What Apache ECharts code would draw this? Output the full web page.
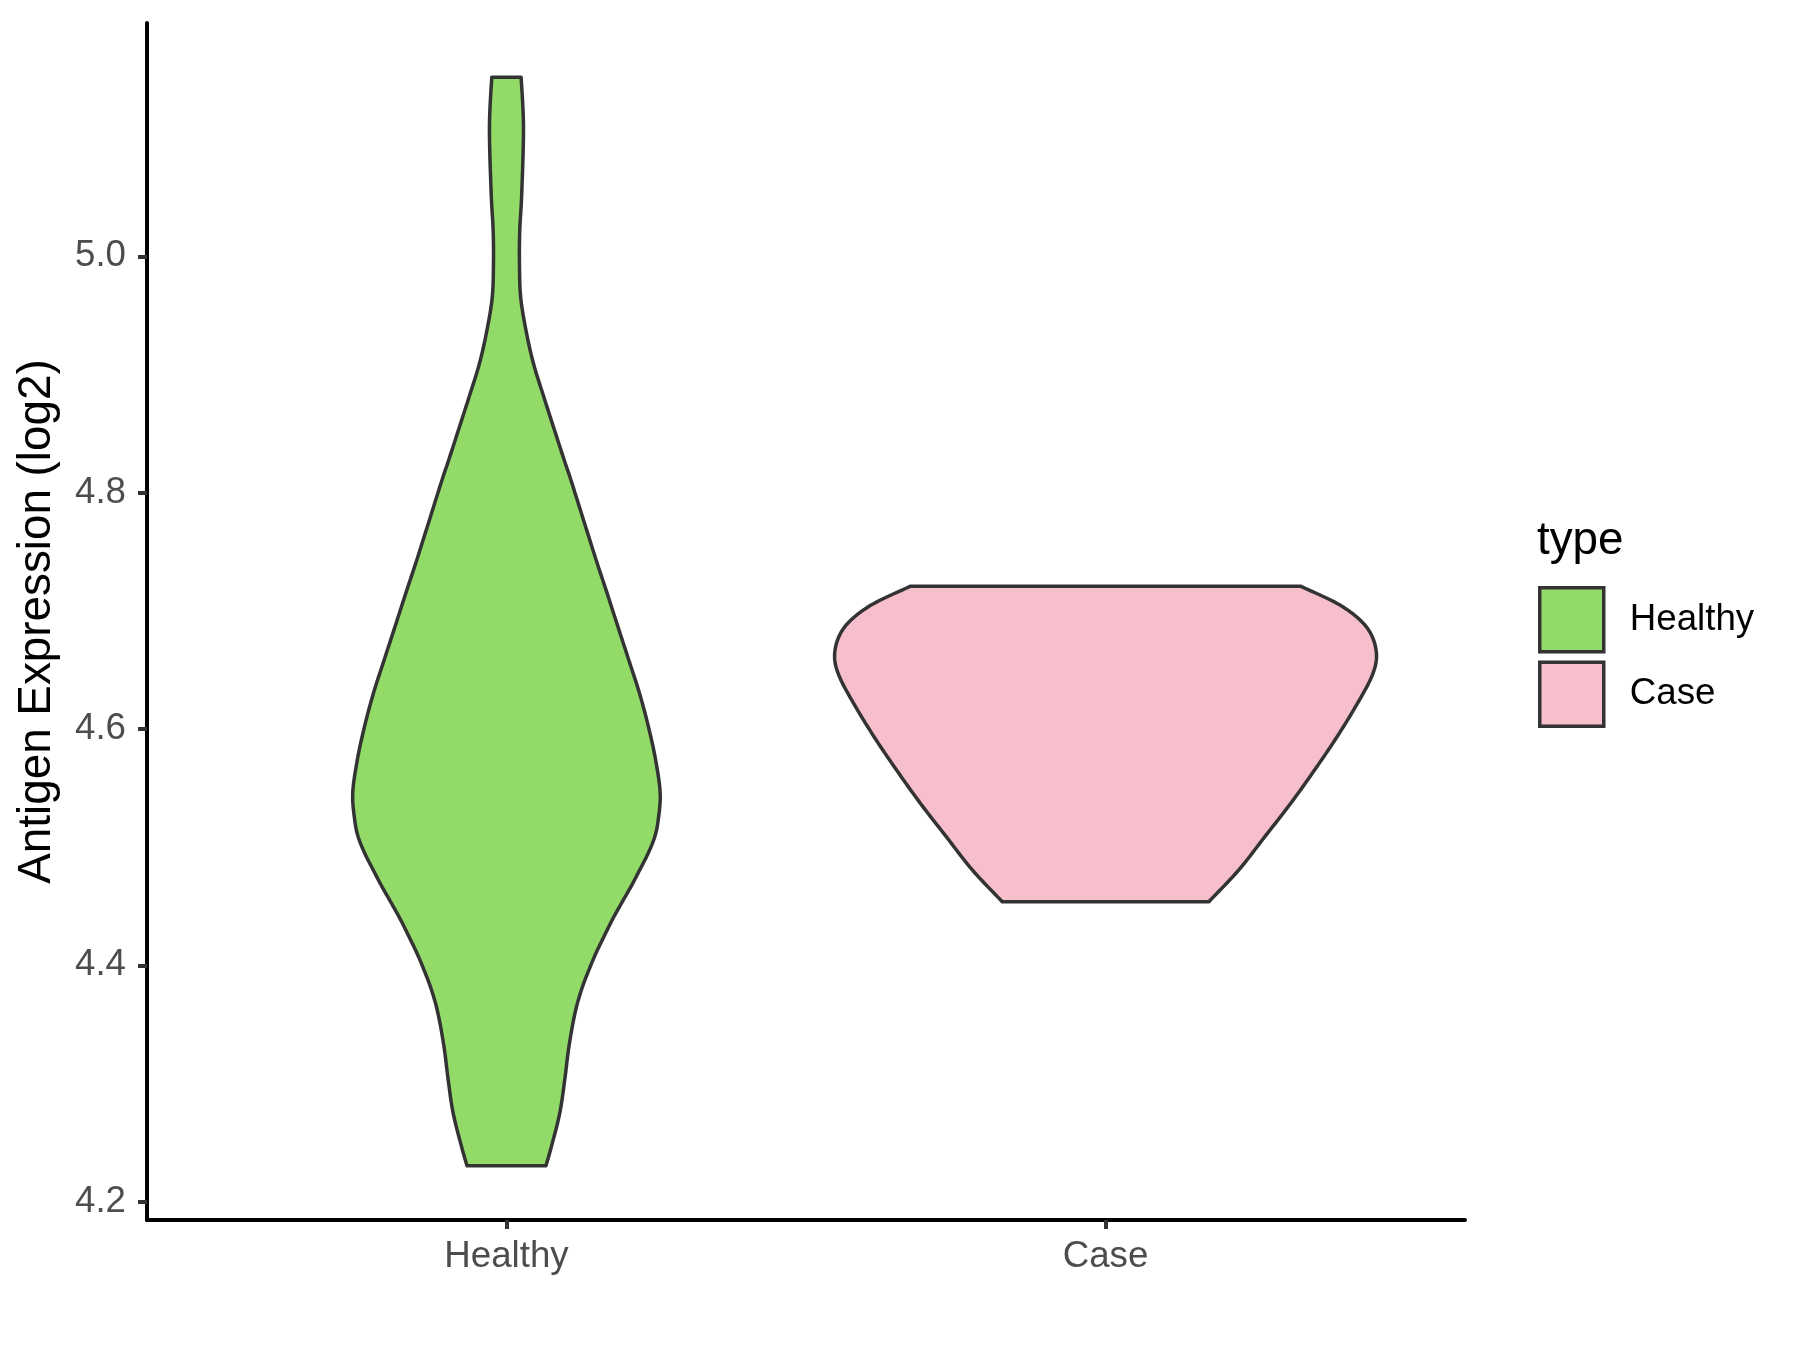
<!DOCTYPE html>
<html>
<head>
<meta charset="utf-8">
<script src="https://cdn.jsdelivr.net/npm/echarts@6/dist/echarts.min.js"></script>
<style>
html, body { margin: 0; padding: 0; background: #ffffff; }
#chart { width: 1800px; height: 1350px; }
</style>
</head>
<body>
<div id="chart"></div>
<script>
// ---- data ----
const categories = ['Healthy', 'Case'];
const categoryPositions = [1, 2];

// Healthy violin outline: expression values (top to bottom) and half-widths (category units)
const healthyValues = [5.1516, 5.1093, 5.0533, 5.0220, 4.9938, 4.9656, 4.9374, 4.9093, 4.8810, 4.8556,
  4.8275, 4.8106, 4.7824, 4.7429, 4.7148, 4.6865, 4.6584, 4.6302, 4.6019, 4.5738, 4.5456, 4.5230,
  4.5089, 4.4949, 4.4808, 4.4666, 4.4526, 4.4385, 4.4244, 4.4103, 4.3962, 4.3793, 4.3596, 4.3313,
  4.3032, 4.2750, 4.2468, 4.2304];
const healthyHalfWidths = [0.0245, 0.0284, 0.0255, 0.0222, 0.0217, 0.0237, 0.0326, 0.0451, 0.0624, 0.0785,
  0.0965, 0.1077, 0.1252, 0.1498, 0.1681, 0.1861, 0.2042, 0.2221, 0.2370, 0.2490, 0.2566, 0.2533,
  0.2476, 0.2366, 0.2225, 0.2078, 0.1920, 0.1766, 0.1628, 0.1494, 0.1377, 0.1252, 0.1144, 0.1043,
  0.0973, 0.0890, 0.0751, 0.0659];

// Case violin outline
const caseValues = [4.7209, 4.7063, 4.6922, 4.6781, 4.6611, 4.6442, 4.6217, 4.5935, 4.5653, 4.5372,
  4.5089, 4.4808, 4.4539];
const caseHalfWidths = [0.3252, 0.3865, 0.4250, 0.4452, 0.4523, 0.4441, 0.4205, 0.3865, 0.3489, 0.3092,
  0.2659, 0.2225, 0.1725];

const yTickValues = [4.2, 4.4, 4.6, 4.8, 5.0];
const yMin = 4.1845;
const yMax = 5.1975;

// ---- styling ----
const fillColors = ['#93DB69', '#F7BFCB'];
const outlineColor = '#333333';
const fontFamily = '"Liberation Sans", Arial, Helvetica, sans-serif';

const groupValues = [healthyValues, caseValues];
const groupHalfWidths = [healthyHalfWidths, caseHalfWidths];

// Catmull-Rom rendering of an outline side through the read points (drawing only)
function smoothSide(pts, steps) {
  const out = [];
  const n = pts.length;
  for (let i = 0; i < n - 1; i++) {
    const p0 = pts[Math.max(i - 1, 0)];
    const p1 = pts[i];
    const p2 = pts[i + 1];
    const p3 = pts[Math.min(i + 2, n - 1)];
    const c1 = [p1[0] + (p2[0] - p0[0]) / 6, p1[1] + (p2[1] - p0[1]) / 6];
    const c2 = [p2[0] - (p3[0] - p1[0]) / 6, p2[1] - (p3[1] - p1[1]) / 6];
    for (let s = 0; s < steps; s++) {
      const t = s / steps, u = 1 - t;
      out.push([
        u * u * u * p1[0] + 3 * u * u * t * c1[0] + 3 * u * t * t * c2[0] + t * t * t * p2[0],
        u * u * u * p1[1] + 3 * u * u * t * c1[1] + 3 * u * t * t * c2[1] + t * t * t * p2[1]
      ]);
    }
  }
  out.push(pts[n - 1]);
  return out;
}

function makeRenderItem(gi) {
  return function (params, api) {
    const vals = groupValues[gi];
    const hws = groupHalfWidths[gi];
    const c = categoryPositions[gi];
    const right = vals.map((v, i) => api.coord([c + hws[i], v]));
    const left = vals.map((v, i) => api.coord([c - hws[i], v])).reverse();
    const pts = smoothSide(right, 10).concat(smoothSide(left, 10));
    return {
      type: 'polygon',
      shape: { points: pts },
      style: { fill: fillColors[gi], stroke: outlineColor, lineWidth: 3.5, lineJoin: 'round' }
    };
  };
}

const series = categories.map((name, gi) => ({
  name: name,
  type: 'custom',
  renderItem: makeRenderItem(gi),
  data: [[categoryPositions[gi], groupValues[gi][0]]],
  itemStyle: { color: fillColors[gi] },
  silent: true,
  z: 2
}));

const chart = echarts.init(document.getElementById('chart'), null, { renderer: 'canvas' });
chart.setOption({
  animation: false,
  backgroundColor: '#ffffff',
  textStyle: { fontFamily: fontFamily },
  grid: { left: 147, right: 335, top: 23, bottom: 130, containLabel: false },
  xAxis: {
    type: 'value',
    min: 0.4,
    max: 2.6,
    splitLine: { show: false },
    axisLine: { show: true, onZero: false, lineStyle: { color: '#000000', width: 4 } },
    axisTick: { show: true, length: 9, customValues: categoryPositions, lineStyle: { color: '#333333', width: 4 } },
    axisLabel: {
      show: true,
      customValues: categoryPositions,
      margin: 18.5,
      fontSize: 36.7,
      color: '#4D4D4D',
      fontFamily: fontFamily,
      formatter: function (v) {
        const idx = categoryPositions.indexOf(Math.round(v));
        return idx >= 0 ? categories[idx] : '';
      }
    }
  },
  yAxis: {
    type: 'value',
    min: yMin,
    max: yMax,
    name: 'Antigen Expression (log2)',
    nameLocation: 'middle',
    nameGap: 87,
    nameTextStyle: { fontSize: 45.8, color: '#000000', fontFamily: fontFamily },
    splitLine: { show: false },
    axisLine: { show: true, onZero: false, lineStyle: { color: '#000000', width: 4 } },
    axisTick: { show: true, length: 9, customValues: yTickValues, lineStyle: { color: '#333333', width: 4 } },
    axisLabel: {
      show: true,
      customValues: yTickValues,
      margin: 21,
      fontSize: 36.7,
      color: '#4D4D4D',
      fontFamily: fontFamily,
      formatter: function (v) { return v.toFixed(1); }
    }
  },
  legend: {
    data: categories,
    orient: 'vertical',
    left: 1538,
    top: 586,
    padding: 0,
    itemWidth: 64,
    itemHeight: 64,
    itemGap: 7,
    icon: 'rect',
    selectedMode: false,
    itemStyle: { borderColor: outlineColor, borderWidth: 3.5 },
    textStyle: { fontSize: 36.7, color: '#000000', fontFamily: fontFamily, padding: [0, 0, 0, 21] }
  },
  graphic: [{
    type: 'text',
    left: 1537,
    top: 518,
    style: { text: 'type', fontSize: 45.8, fill: '#000000', fontFamily: fontFamily }
  }],
  series: series
});
</script>
</body>
</html>
